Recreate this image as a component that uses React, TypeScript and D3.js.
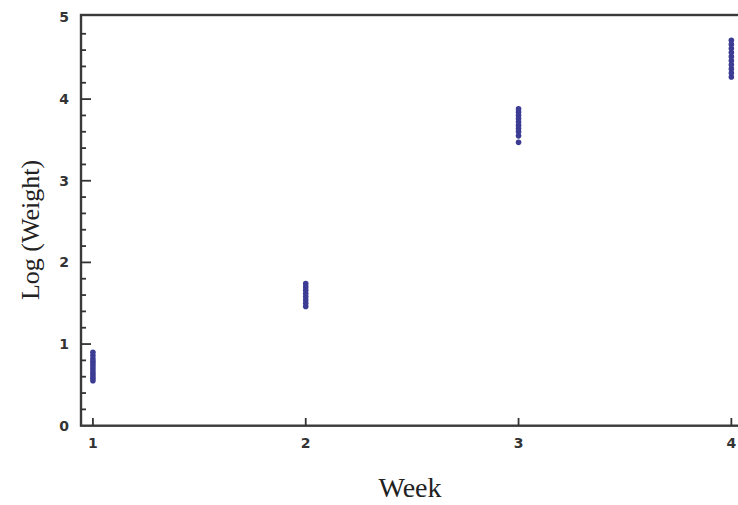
import React, { useEffect, useRef } from 'react';
import * as d3 from 'd3';

// log(weight) readings per week
const weeks = [1, 2, 3, 4];
const week1 = [0.55, 0.58, 0.61, 0.64, 0.67, 0.7, 0.73, 0.76, 0.79, 0.82, 0.86, 0.9];
const week2 = [1.46, 1.5, 1.54, 1.58, 1.62, 1.66, 1.7, 1.74];
const week3 = [3.47, 3.55, 3.6, 3.64, 3.68, 3.72, 3.76, 3.8, 3.84, 3.88];
const week4 = [4.27, 4.32, 4.37, 4.42, 4.47, 4.52, 4.57, 4.62, 4.67, 4.72];
const yTicks = [0, 1, 2, 3, 4, 5];

const App = () => {
  const node = useRef<SVGSVGElement>(null);

  useEffect(() => {
    const svg = d3.select(node.current);
    svg.selectAll('*').remove();

    const x = d3.scaleLinear().domain([0.944, 4.05]).range([81, 742]);
    const y = d3.scaleLinear().domain([0, 5.03]).range([425.7, 15]);

    const data: { w: number; v: number }[] = [];
    [week1, week2, week3, week4].forEach((vals, i) => {
      vals.forEach(v => data.push({ w: weeks[i], v }));
    });

    // frame
    svg.append('rect')
      .attr('x', x(0.944)).attr('y', 15)
      .attr('width', x(4.05) - x(0.944)).attr('height', 425.7 - 15)
      .attr('fill', 'none').attr('stroke', '#3a3a3a').attr('stroke-width', 2.4);

    // y ticks, majors and minors pointing inward
    const minors = d3.range(0, 50).map(d => d / 10).filter(d => Math.round(d * 10) % 2 === 0 && d % 1 !== 0);
    svg.append('g').selectAll('line.minor').data(minors).enter().append('line')
      .attr('x1', x(0.944)).attr('x2', x(0.944) + 5)
      .attr('y1', d => y(d)).attr('y2', d => y(d))
      .attr('stroke', '#333').attr('stroke-width', 1.8);
    svg.append('g').selectAll('line.major').data(yTicks.slice(1, 5)).enter().append('line')
      .attr('x1', x(0.944)).attr('x2', x(0.944) + 10)
      .attr('y1', d => y(d)).attr('y2', d => y(d))
      .attr('stroke', '#333').attr('stroke-width', 1.8);
    svg.append('g').selectAll('text').data(yTicks).enter().append('text')
      .attr('x', 69).attr('y', d => y(d))
      .attr('dy', '0.35em').attr('text-anchor', 'end')
      .attr('font-family', 'DejaVu Sans, sans-serif').attr('font-size', 14)
      .attr('font-weight', 600)
      .attr('fill', '#333')
      .text(d => d);

    // x ticks
    svg.append('g').selectAll('line').data(weeks).enter().append('line')
      .attr('x1', d => x(d)).attr('x2', d => x(d))
      .attr('y1', 425.7).attr('y2', 418)
      .attr('stroke', '#333').attr('stroke-width', 1.8);
    svg.append('g').selectAll('text').data(weeks).enter().append('text')
      .attr('x', d => x(d)).attr('y', 443)
      .attr('dy', '0.35em').attr('text-anchor', 'middle')
      .attr('font-family', 'DejaVu Sans, sans-serif').attr('font-size', 14)
      .attr('font-weight', 600)
      .attr('fill', '#333')
      .text(d => d);

    // points
    svg.append('g').selectAll('circle').data(data).enter().append('circle')
      .attr('cx', d => x(d.w)).attr('cy', d => y(d.v))
      .attr('r', 2.8)
      .attr('fill', '#3c3c94');

    // axis titles
    svg.append('text')
      .attr('x', 410).attr('y', 497)
      .attr('text-anchor', 'middle')
      .attr('font-family', 'Liberation Serif, serif').attr('font-size', 28)
      .attr('fill', '#222')
      .text('Week');
    svg.append('text')
      .attr('transform', 'translate(39,230) rotate(-90)')
      .attr('text-anchor', 'middle')
      .attr('font-family', 'Liberation Serif, serif').attr('font-size', 26)
      .attr('fill', '#222')
      .text('Log (Weight)');
  }, []);

  return (
    <svg ref={node} width={738} height={505}
      style={{ position: 'absolute', left: 0, top: 0, background: '#fff' }} />
  );
};

export default App;
